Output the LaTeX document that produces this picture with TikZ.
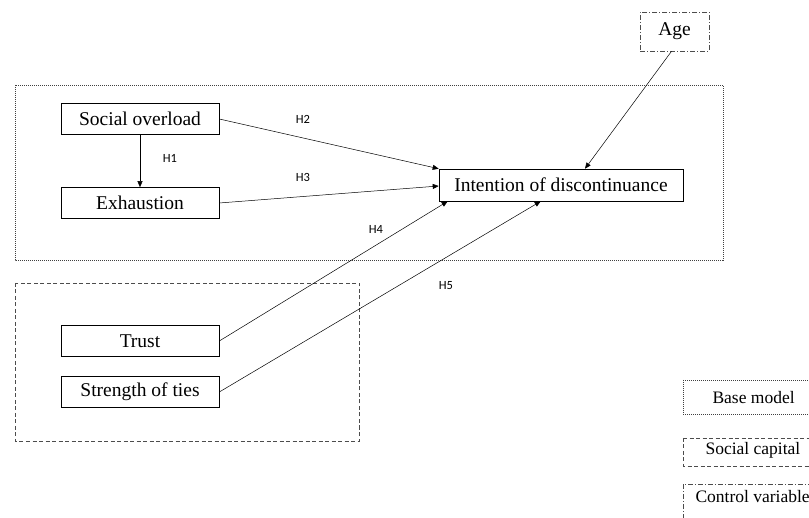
\documentclass[tikz,border=0pt]{standalone}
\usepackage{fontspec}
\setmainfont{Liberation Serif}
\newfontfamily\hfont{Carlito}
\usetikzlibrary{arrows.meta}
\begin{document}
\begin{tikzpicture}[x=1pt,y=-1pt,
  var/.style={draw, line width=0.6pt, minimum width=158pt, minimum height=31pt, font=\fontsize{19.5}{22}\selectfont, inner sep=0pt},
  conn/.style={line width=0.5pt, -{Triangle[length=6pt,width=5pt]}},
  hlab/.style={font=\hfont\fontsize{12.5}{14}\selectfont},
  basebox/.style={draw=black!75, line width=0.6pt, dash pattern=on 1pt off 1pt},
  capbox/.style={draw=black!70, line width=0.6pt, dash pattern=on 4pt off 2.5pt},
  ctrlbox/.style={draw=black!70, line width=0.6pt, dash pattern=on 5pt off 2pt on 1pt off 2pt},
  legtext/.style={font=\fontsize{17.5}{20}\selectfont}]
\useasboundingbox (0,0) rectangle (809,518);
% groups
\draw[basebox] (15,85) rectangle (723,260);
\draw[capbox] (15,283) rectangle (359,441);
% nodes
\node[var] (so) at (140,119) {Social overload};
\node[var] (ex) at (140,203) {Exhaustion};
\node[var] (tr) at (140,341) {Trust};
\node[var] (st) at (140,392) {Strength of ties};
\node[var, minimum width=244pt, minimum height=32pt] (in) at (561,185) {Intention of discontinuance};
\node[var, ctrlbox, minimum width=69pt, minimum height=39pt, draw=black!70] (age) at (674.5,31.5) {Age};
% connectors
\draw[conn] (so.south) -- (ex.north);
\draw[conn] (so.east) -- (in.north west);
\draw[conn] (ex.east) -- ([yshift=-1pt]in.west);
\draw[conn] (tr.east) -- ([xshift=9pt]in.south west);
\draw[conn] (st.east) -- ([xshift=102pt]in.south west);
\draw[conn] ([xshift=-3pt]age.south) -- ([xshift=24pt]in.north);
% labels
\node[hlab] (h1) at (170,158) {H1};
\node[hlab] (h2) at (303,119) {H2};
\node[hlab] (h3) at (303,177) {H3};
\node[hlab] (h4) at (376,229) {H4};
\node[hlab] (h5) at (446,286) {H5};
% legend
\draw[basebox] (683,380) -- (683,414) -- (830,414);
\draw[basebox] (683,380) -- (830,380);
\node[legtext, anchor=west] (lb) at (709,398) {Base model};
\draw[capbox] (683,438) -- (683,466) -- (830,466);
\draw[capbox] (683,438) -- (830,438);
\node[legtext, anchor=west] (lc) at (702,450) {Social capital};
\draw[ctrlbox] (683,519) -- (683,484) -- (830,484);
\node[legtext, anchor=west] (lv) at (692,497) {Control variable};
\end{tikzpicture}
\end{document}
